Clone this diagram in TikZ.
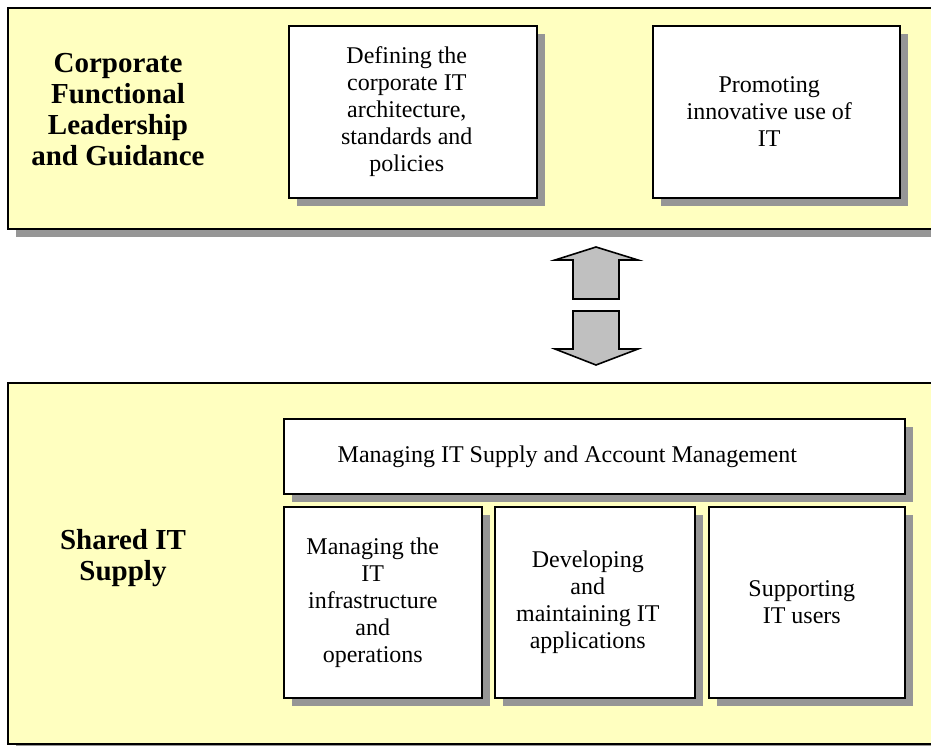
\documentclass[tikz,border=0pt]{standalone}
\usepackage{fontspec}
\setmainfont{Liberation Serif}
\usetikzlibrary{shadows}

\definecolor{paleyellow}{HTML}{FFFFC0}
\definecolor{shadowgray}{HTML}{969696}
\definecolor{arrowgray}{HTML}{C0C0C0}

\begin{document}
\begin{tikzpicture}[x=1pt,y=-1pt]
\tikzstyle{panel}=[rectangle,draw,line width=1.6pt,fill=paleyellow,anchor=north west,inner sep=0pt,
  drop shadow={shadow xshift=8pt,shadow yshift=-8pt,fill=shadowgray,opacity=1}]
\tikzstyle{cell}=[rectangle,draw,line width=1.6pt,fill=white,anchor=north west,inner sep=0pt,
  drop shadow={shadow xshift=8pt,shadow yshift=-8pt,fill=shadowgray,opacity=1}]
\tikzstyle{celltext}=[align=center,font=\fontsize{24}{27}\selectfont]
\tikzstyle{head}=[align=center,font=\fontsize{29}{31}\selectfont\bfseries]
\tikzstyle{blockarrow}=[draw,line width=1.6pt,fill=arrowgray,line join=miter]

\useasboundingbox (0,0) rectangle (931,745);
\clip (0,0) rectangle (931,745);

% the two bands
\node[panel,minimum width=940pt,minimum height=221pt] (lead) at (7,7) {};
\node[panel,minimum width=940pt,minimum height=361pt] (supply) at (7,382) {};

\node[head] (leadtxt) at (118,110) {Corporate\\Functional\\Leadership\\and Guidance};
\node[head] (supplytxt) at (123,558) {Shared IT\\Supply};

% upper band
\node[cell,minimum width=248pt,minimum height=172pt] (c1) at (288,25) {};
\node[cell,minimum width=247pt,minimum height=172pt] (c2) at (652,25) {};
\node[celltext] (t1) at ([xshift=-6pt]c1.center)
  {Defining the\\corporate IT\\architecture,\\standards and\\policies};
\node[celltext] (t2) at ([xshift=-7pt]c2.center) {Promoting\\innovative use of\\IT};

% lower band
\node[cell,minimum width=621pt,minimum height=75pt] (c3) at (283,418) {};
\node[cell,minimum width=198pt,minimum height=191pt] (c4) at (283,506) {};
\node[cell,minimum width=200pt,minimum height=191pt] (c5) at (494,506) {};
\node[cell,minimum width=196pt,minimum height=191pt] (c6) at (708,506) {};
\node[celltext] (t3) at ([xshift=-27pt]c3.center) {Managing IT Supply and Account Management};
\node[celltext] (t4) at ([xshift=-10pt]c4.center)
  {Managing the\\IT\\infrastructure\\and\\operations};
\node[celltext] (t5) at ([xshift=-7pt]c5.center) {Developing\\and\\maintaining IT\\applications};
\node[celltext] (t6) at ([xshift=-5pt]c6.center) {Supporting\\IT users};

% arrows between the bands
\draw[blockarrow] (555,260) -- (596,247) -- (638,260) -- (619,260) -- (619,299)
  -- (573,299) -- (573,260) -- cycle;
\draw[blockarrow] (573,311) -- (619,311) -- (619,349) -- (638,349) -- (596,365)
  -- (555,349) -- (573,349) -- cycle;

\end{tikzpicture}
\end{document}
